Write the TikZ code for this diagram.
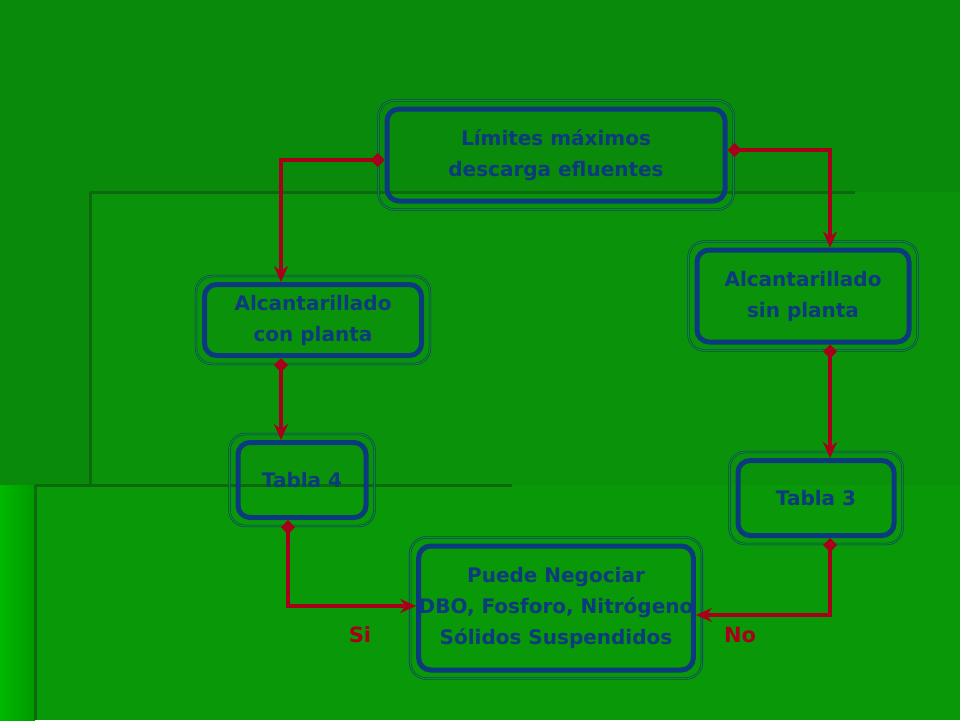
\documentclass[tikz,border=0pt]{standalone}
\usepackage{fontspec}
\setmainfont{DejaVu Sans}
\usetikzlibrary{arrows.meta}
\definecolor{navy}{HTML}{0B3A7E}
\definecolor{redc}{HTML}{A8001A}
\definecolor{bgA}{HTML}{0A8A0A}
\definecolor{bgB}{HTML}{0B920B}
\definecolor{bgC}{HTML}{089808}
\definecolor{lineg}{HTML}{0B6A0B}
\begin{document}
\begin{tikzpicture}[x=1pt,y=-1pt,
  box/.style={draw=navy,line width=5pt,rounded corners=12pt,align=center,
    font=\bfseries\fontsize{20}{31}\selectfont,text=navy,inner sep=0pt},
  outer/.style={draw=navy,line width=0.6pt,double=bgB,double distance=1.2pt,rounded corners=16pt},
  conn/.style={draw=redc,line width=4pt,{Diamond[length=14pt,width=14pt]}-{Stealth[length=16pt,width=14pt]}},
  lab/.style={font=\bfseries\fontsize{21}{22}\selectfont,text=redc}]
\useasboundingbox (0,0) rectangle (960,720);
\fill[bgA] (0,0) rectangle (960,720);
\fill[bgB] (90,192) rectangle (960,720);
\fill[bgC] (35,485) rectangle (960,720);
\shade[left color=green!72!black,right color=green!60!black] (0,485) rectangle (35,720);
\draw[lineg,line width=3pt] (90,192) -- (855,192);
\draw[lineg,line width=3pt] (90,192) -- (90,485);
\draw[lineg,line width=3pt] (35,485) -- (512,485);
\draw[lineg,line width=3pt] (35,485) -- (35,720);
\node[box,minimum width=338pt,minimum height=92pt] (b1) at (556,155) {Límites máximos\\descarga efluentes};
\node[box,minimum width=217pt,minimum height=71pt] (b2) at (313,320) {Alcantarillado\\con planta};
\node[box,minimum width=212pt,minimum height=92pt] (b3) at (803,296) {Alcantarillado\\sin planta};
\node[box,minimum width=128pt,minimum height=75pt] (b4) at (302,480) {Tabla 4};
\node[box,minimum width=156pt,minimum height=75pt] (b5) at (816,498) {Tabla 3};
\node[box,minimum width=260pt,minimum height=124pt] (b6) at (556,608) {Puede Negociar\\DBO, Fosforo, Nitrógeno\\Sólidos Suspendidos};
\foreach \n in {b1,b2,b3,b4,b5,b6}{
  \draw[outer] ([xshift=-6pt,yshift=-6pt]\n.south west) rectangle ([xshift=6pt,yshift=6pt]\n.north east);}
\draw[conn] ([yshift=-5pt]b1.west) -| ([xshift=-32pt]b2.north);
\draw[conn] ([yshift=5pt]b1.east) -| ([xshift=27pt]b3.north);
\draw[conn] ([xshift=-32pt]b2.south) -- ([xshift=-32pt]b2.south |- b4.north);
\draw[conn] ([xshift=27pt]b3.south) -- ([xshift=27pt]b3.south |- b5.north);
\draw[conn] ([xshift=-14pt]b4.south) |- ([yshift=2pt]b6.west);
\draw[conn,shorten >=-12pt] ([xshift=14pt]b5.south) |- ([yshift=-7pt,xshift=12pt]b6.east);
\node[lab] (si) at (360,635) {Si};
\node[lab] (no) at (740,635) {No};
\end{tikzpicture}
\end{document}
